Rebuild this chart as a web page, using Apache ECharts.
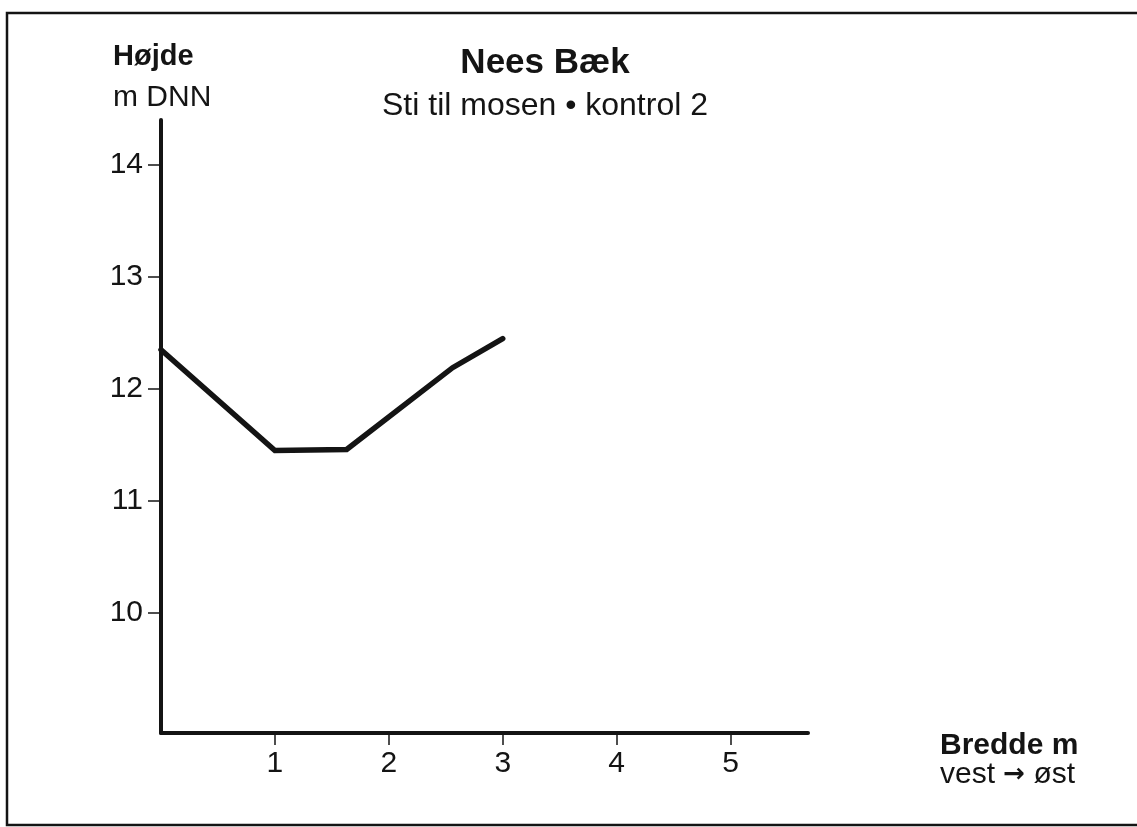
<!DOCTYPE html>
<html>
<head>
<meta charset="utf-8">
<script src="https://cdn.jsdelivr.net/npm/echarts@6/dist/echarts.min.js"></script>
<style>html,body{margin:0;padding:0;background:#fff;}#c{width:1137px;height:827px;}</style>
</head>
<body>
<div id="c"></div>
<script>
// Data
const widthM = [0, 1, 1.63, 2.56, 3.0];
const heightM = [12.35, 11.45, 11.46, 12.19, 12.45];
const xTicks = [1, 2, 3, 4, 5];
const yTicks = [10, 11, 12, 13, 14];
const titleText = 'Nees Bæk';
const subtitleText = 'Sti til mosen • kontrol 2';
const yName = 'Højde';
const yUnit = 'm DNN';
const xName = 'Bredde m';
const xDirFrom = 'vest';
const xDirTo = 'øst';

const FONT = '"Liberation Sans", Arial, Helvetica, sans-serif';
const ink = '#141414';
const chart = echarts.init(document.getElementById('c'), null, {renderer: 'canvas'});
const series = widthM.map((x, i) => [x, heightM[i]]);

chart.setOption({
  backgroundColor: '#ffffff',
  animation: false,
  title: [
    {text: titleText, left: 540, top: 41, textAlign: 'center',
     textStyle: {fontFamily: FONT, fontSize: 35, fontWeight: 'bold', color: ink}},
    {text: subtitleText, left: 540, top: 85, textAlign: 'center',
     textStyle: {fontFamily: FONT, fontSize: 32, fontWeight: 'normal', color: ink}}
  ],
  grid: {left: 161, right: 329, top: 120, bottom: 94, containLabel: false},
  xAxis: {
    type: 'value', min: 0, max: 5.68,
    axisLine: {show: true, onZero: false, lineStyle: {color: ink, width: 4}},
    axisTick: {show: true, customValues: xTicks, length: 12, lineStyle: {color: ink, width: 1.5}},
    axisLabel: {show: true, customValues: xTicks, margin: 16, fontFamily: FONT, fontSize: 30, color: ink},
    splitLine: {show: false}
  },
  yAxis: {
    type: 'value', min: 8.93, max: 14.4,
    axisLine: {show: true, onZero: false, lineStyle: {color: ink, width: 4}},
    axisTick: {show: true, customValues: yTicks, length: 13, lineStyle: {color: ink, width: 1.5}},
    axisLabel: {show: true, customValues: yTicks, margin: 18, fontFamily: FONT, fontSize: 30, color: ink},
    splitLine: {show: false}
  },
  series: [{
    type: 'line', data: series, symbol: 'none',
    lineStyle: {color: ink, width: 5.5, cap: 'round', join: 'miter'}
  }],
  graphic: [
    {type: 'rect', shape: {x: 7, y: 13, width: 1140, height: 812},
     style: {fill: 'none', stroke: ink, lineWidth: 2.5}, silent: true},
    {type: 'text', left: 113, top: 42, style: {text: yName, font: 'bold 29px ' + FONT, fill: ink}},
    {type: 'text', left: 113, top: 83, style: {text: yUnit, font: '30px ' + FONT, fill: ink}},
    {type: 'text', left: 940, top: 731, style: {text: xName, font: 'bold 30px ' + FONT, fill: ink}},
    {type: 'text', left: 940, top: 760, style: {
      text: '{a|' + xDirFrom + ' }{b|→}{a| ' + xDirTo + '}',
      rich: {
        a: {fontFamily: FONT, fontSize: 30, fill: ink, color: ink},
        b: {fontFamily: '"DejaVu Sans", sans-serif', fontSize: 26, fontWeight: 'bold', color: ink, fill: ink}
      }
    }}
  ]
});
</script>
</body>
</html>
